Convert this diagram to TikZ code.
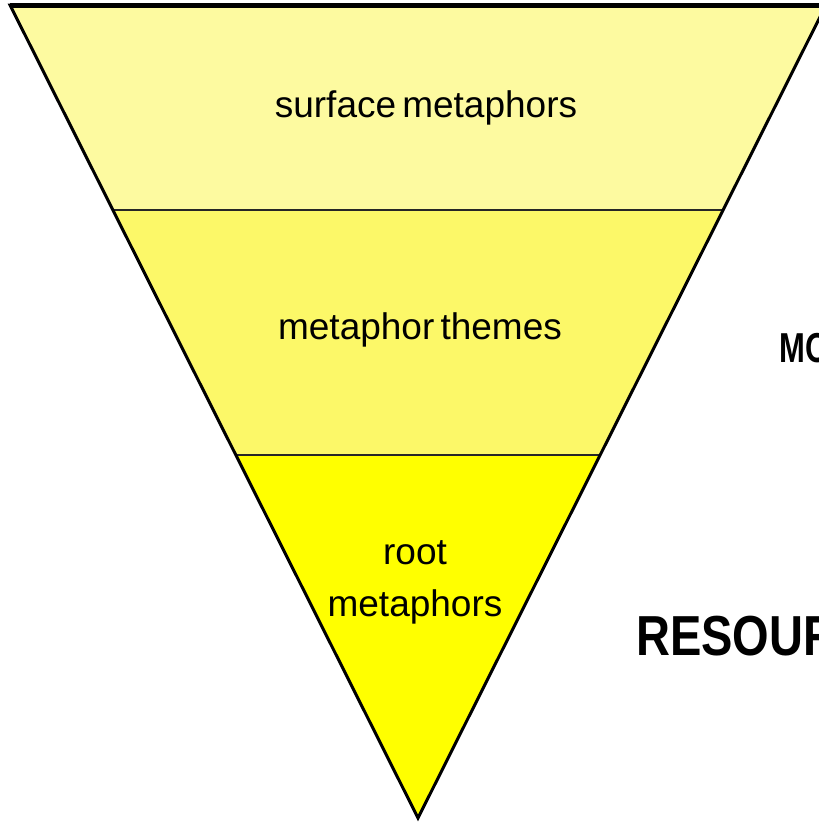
\documentclass[tikz,border=0pt]{standalone}
\usepackage{graphicx}
\usepackage{fontspec}
\setmainfont[WordSpace=0.6]{Liberation Sans}
\definecolor{bandtop}{RGB}{253,250,160}
\definecolor{bandmid}{RGB}{252,248,104}
\definecolor{bandbot}{RGB}{255,255,0}
\begin{document}
\begin{tikzpicture}[x=1pt,y=-1pt,
    band/.style={font=\fontsize{37}{52}\selectfont, align=center, inner sep=0pt},
    side/.style={anchor=base west, inner sep=0pt}]
    \useasboundingbox (0,0) rectangle (819,822);
    \clip (0,0) rectangle (819,822);
    % the three bands, cut where the sides reach y=210 and y=455
    \fill[bandtop] (10,5)--(826,5)--(723,210)--(113,210)--cycle;
    \fill[bandmid] (113,210)--(723,210)--(600,455)--(236,455)--cycle;
    \fill[bandbot] (236,455)--(600,455)--(418,818)--cycle;
    \draw[line width=1.5pt, black!85] (113,210)--(723,210) (236,455)--(600,455);
    \draw[line width=3pt] (10,5)--(826,5)--(418,818)--cycle;
    \draw[line width=5pt] (10,5)--(826,5);
    \node[band] (surface) at (426,108) {surface metaphors};
    \node[band] (themes) at (420,330) {metaphor themes};
    \node[band] (root) at (415,582) {root\\metaphors};
    \node[side] (more) at (779,362) {\fontsize{31}{31}\selectfont\bfseries\scalebox{1}[1.35]{MO}};
    \node[side] (resources) at (636,655) {\fontsize{47}{47}\selectfont\bfseries\scalebox{1}[1.2]{RESOUR}};
\end{tikzpicture}
\end{document}
